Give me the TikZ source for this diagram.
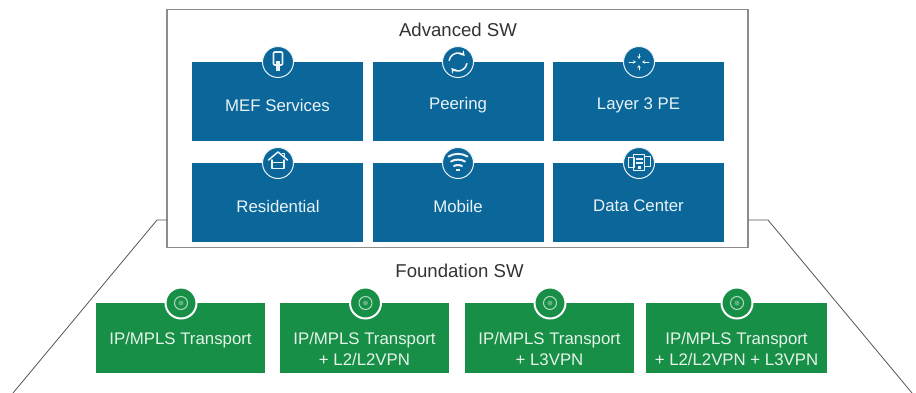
\documentclass[tikz,border=0pt]{standalone}
\usepackage{fontspec}
\setmainfont{Liberation Sans}
\usetikzlibrary{arrows.meta}
\definecolor{bluebox}{HTML}{0B6699}
\definecolor{greenbox}{HTML}{178F46}
\definecolor{softwhite}{HTML}{EAF3F7}
\definecolor{softgreen}{HTML}{E6F3EA}
\definecolor{framegray}{HTML}{8C8C8C}
\definecolor{linegray}{HTML}{555555}
\tikzset{
  x=1pt,y=-1pt,
  frame/.style={draw=framegray,line width=1.3pt,fill=white,inner sep=0pt,outer sep=0pt,minimum width=581pt,minimum height=238.5pt},
  heading/.style={text=black!80,font=\fontsize{18.6}{22}\selectfont,inner sep=0pt},
  bluebox/.style={fill=bluebox,inner sep=0pt,outer sep=0pt,minimum width=171pt,minimum height=79pt},
  greenbox/.style={fill=greenbox,inner sep=0pt,outer sep=0pt,minimum height=70pt},
  bluelabel/.style={text=softwhite,font=\fontsize{16.8}{21.7}\selectfont,inner sep=0pt},
  greenlabel/.style={text=softgreen,font=\fontsize{16.8}{21.7}\selectfont,inner sep=0pt,align=center},
  bluedot/.style={circle,fill=bluebox,draw=softwhite,line width=1pt,minimum size=31pt,inner sep=0pt},
  greendot/.style={circle,fill=greenbox,draw=white,line width=2pt,minimum size=31pt,inner sep=0pt},
  icon/.style={draw=softwhite,line width=1.5pt,line cap=round,line join=round},
  iconthin/.style={draw=softwhite,line width=.8pt,line cap=round},
  slope/.style={draw=linegray,line width=.8pt},
}
\begin{document}
\begin{tikzpicture}
\useasboundingbox (0,0) rectangle (916,393);
\coordinate (lk) at (157,220);
\coordinate (lb) at (13,393);
\coordinate (rk) at (768,220);
\coordinate (rb) at (912,393);
\node[frame] (outer) at (457.5,128.5) {};
\draw[slope] (outer.west |- lk) -- (lk) -- (lb);
\draw[slope] (outer.east |- rk) -- (rk) -- (rb);
\node[heading] (adv) at (458,30) {Advanced SW};
\node[heading] (fnd) at (459.5,271) {Foundation SW};
% blue boxes
\node[bluebox] (b1) at (277.5,101.5) {};
\node[bluebox] (b2) at (458,101.5) {};
\node[bluebox] (b3) at (638.5,101.5) {};
\node[bluebox] (b4) at (277.5,202.5) {};
\node[bluebox] (b5) at (458,202.5) {};
\node[bluebox] (b6) at (638.5,202.5) {};
\node[bluelabel] (t1) at (277.5,105.5) {MEF Services};
\node[bluelabel] (t2) at (458,105.5) {Peering};
\node[bluelabel] (t3) at (638.5,105.5) {Layer 3 PE};
\node[bluelabel] (t4) at (278,206) {Residential};
\node[bluelabel] (t5) at (458,206) {Mobile};
\node[bluelabel] (t6) at (638.5,206) {Data Center};
% green boxes
\node[greenbox,minimum width=169pt] (g1) at (180.5,338) {};
\node[greenbox,minimum width=169pt] (g2) at (364.5,338) {};
\node[greenbox,minimum width=169pt] (g3) at (549.5,338) {};
\node[greenbox,minimum width=181pt] (g4) at (736.5,338) {};
\node[greenlabel] (u1) at (180.5,340.5) {IP/MPLS Transport};
\node[greenlabel] (u2) at (364.5,349) {IP/MPLS Transport\\+ L2/L2VPN};
\node[greenlabel] (u3) at (549.5,349) {IP/MPLS Transport\\+ L3VPN};
\node[greenlabel] (u4) at (736.5,349) {IP/MPLS Transport\\+ L2/L2VPN + L3VPN};
% blue icons
\node[bluedot] (i1) at (278,62) {};
\node[bluedot] (i2) at (458,62) {};
\node[bluedot] (i3) at (639,62) {};
\node[bluedot] (i4) at (278,163) {};
\node[bluedot] (i5) at (458,163) {};
\node[bluedot] (i6) at (639,163) {};
% key
\begin{scope}[shift={(i1)}]
\draw[icon,line width=1.6pt,rounded corners=1pt] (-4.5,-10) rectangle (4.5,3);
\fill[softwhite] (-2,-1) rectangle (2,9);
\end{scope}
% peering
\begin{scope}[shift={(i2)}]
\draw[icon,-{Stealth[length=5pt,width=6pt]}] (190:9) arc[start angle=190,end angle=318,radius=9];
\draw[icon,-{Stealth[length=5pt,width=6pt]}] (10:9) arc[start angle=10,end angle=138,radius=9];
\end{scope}
% layer 3
\begin{scope}[shift={(i3)}]
\draw[iconthin,-{Stealth[length=3pt,width=3.5pt]}] (-10,0) -- (-3,0);
\draw[iconthin,-{Stealth[length=3pt,width=3.5pt]}] (10,0) -- (3,0);
\draw[iconthin,-{Stealth[length=3pt,width=3.5pt]}] (0,-8) -- (0,-3);
\draw[iconthin,-{Stealth[length=3pt,width=3.5pt]}] (0,8) -- (0,3);
\end{scope}
% house
\begin{scope}[shift={(i4)}]
\draw[icon] (-9.5,-3) -- (0,-11) -- (9.5,-3);
\draw[icon] (-6,-3) -- (-6,5.5) -- (6,5.5) -- (6,-3);
\draw[icon,line width=1pt] (4,-9.5) -- (6.5,-9.5) -- (6.5,-6);
\draw[icon,line width=1.2pt] (-6,-.5) -- (6,-.5);
\end{scope}
% wifi
\begin{scope}[shift={(i5)}]
\draw[icon,line width=2pt] (-9.5,-6.5) .. controls (-4,-10) and (4,-10) .. (9.5,-6.5);
\draw[icon,line width=2pt] (-7,-1.5) .. controls (-3,-4) and (3,-4) .. (7,-1.5);
\draw[icon,line width=2pt] (-4,3) .. controls (-2,1.8) and (2,1.8) .. (4,3);
\fill[softwhite] (-2,6) rectangle (2,7.8);
\end{scope}
% data center
\begin{scope}[shift={(i6)}]
\draw[icon,line width=1pt] (-11,-5) rectangle (-5,5);
\draw[icon,line width=1pt] (5,-6) rectangle (11,4);
\draw[icon,line width=1pt] (-5.5,-8) rectangle (5.5,8);
\fill[softwhite] (-3.5,-5) rectangle (3.5,-3);
\fill[softwhite] (-3.5,-1) rectangle (3.5,1);
\fill[softwhite] (-1.5,3.5) rectangle (1.5,6);
\end{scope}
% green icons
\foreach \n/\x in {j1/181,j2/365.5,j3/550,j4/737}{
  \node[greendot] (\n) at (\x,303) {};
  \draw[softgreen,line width=1pt,opacity=.75] (\n) circle[radius=6.5];
  \fill[softgreen,opacity=.35] (\n) circle[radius=2.5];
}
\end{tikzpicture}
\end{document}
